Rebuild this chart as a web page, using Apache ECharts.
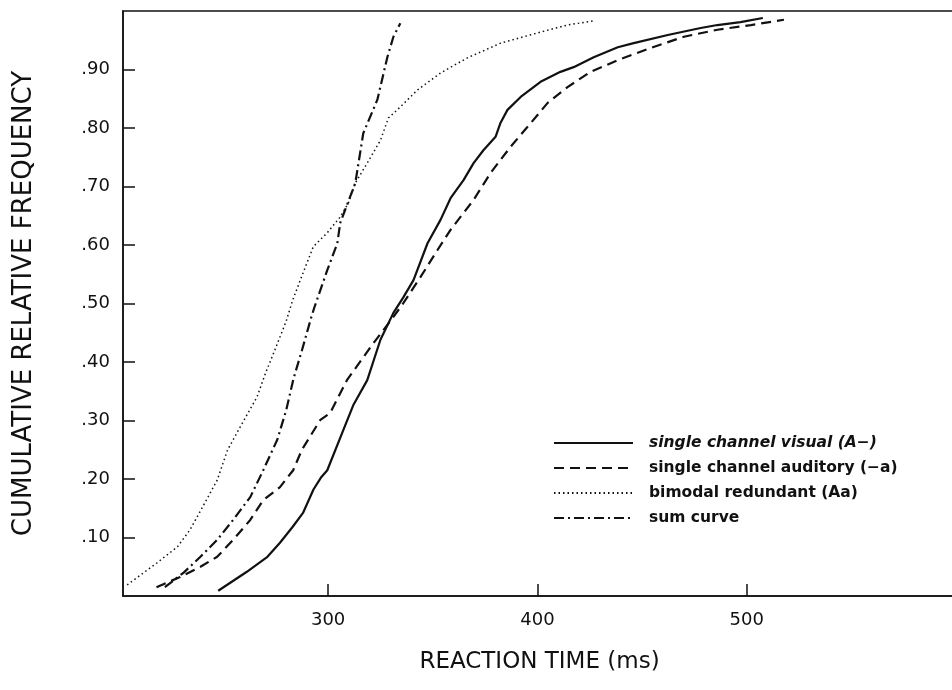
<!DOCTYPE html>
<html lang="en">
<head>
    <meta charset="UTF-8">
    <title>Cumulative RT distributions</title>
    <script src="https://cdn.jsdelivr.net/npm/echarts@6.0.0/dist/echarts.min.js"></script>
    <style>
        html, body { margin: 0; padding: 0; background: #fff; }
        #chart { width: 952px; height: 690px; }
    </style>
</head>
<body>
    <div id="chart"></div>
    <script>
        // [reaction time (ms), cumulative relative frequency]
        var visual = [
            [247.5, 0.009], [261, 0.041], [271, 0.067], [277, 0.091], [283, 0.118],
            [288, 0.142], [293, 0.182], [296.5, 0.202], [299.6, 0.215], [307.3, 0.284],
            [312, 0.326], [318.7, 0.369], [325, 0.438], [331.2, 0.484], [336, 0.511],
            [340.8, 0.540], [347.5, 0.603], [353.7, 0.643], [358.5, 0.68], [364.7, 0.711],
            [369.5, 0.740], [374.2, 0.762], [380, 0.785], [382.4, 0.809], [385.7, 0.831],
            [392, 0.853], [401.5, 0.879], [411, 0.896], [417.3, 0.904], [426.9, 0.921],
            [438.4, 0.938], [446, 0.945], [462.3, 0.959], [478, 0.971], [486, 0.976],
            [497, 0.981], [507.7, 0.988]
        ];
        var auditory = [
            [218, 0.015], [229, 0.032], [239, 0.050], [247, 0.067], [254.6, 0.096],
            [262.8, 0.130], [269, 0.164], [277, 0.186], [283.3, 0.215], [287.5, 0.25],
            [293, 0.282], [296.3, 0.301], [301, 0.313], [309, 0.369], [321.6, 0.432],
            [331.2, 0.477], [336, 0.501], [344.1, 0.545], [352.2, 0.591], [358.5, 0.626],
            [369.5, 0.677], [377.6, 0.723], [387.2, 0.768], [395.3, 0.802], [404.9, 0.843],
            [414.4, 0.870], [425.4, 0.896], [438.4, 0.916], [454.2, 0.937], [470, 0.956],
            [486, 0.968], [502, 0.976], [517.8, 0.985]
        ];
        var bimodal = [
            [204, 0.019], [218, 0.056], [228, 0.084], [234, 0.113], [240, 0.152],
            [247, 0.198], [252, 0.25], [258, 0.289], [266, 0.34], [270, 0.38],
            [274.5, 0.42], [280, 0.47], [283, 0.505], [286.7, 0.540], [292.9, 0.597],
            [299.6, 0.621], [305.8, 0.648], [309.7, 0.672], [313, 0.706], [318.7, 0.740],
            [325, 0.779], [328.8, 0.817], [334.5, 0.836], [342.7, 0.865], [353.7, 0.894],
            [366.6, 0.920], [382.4, 0.945], [401.5, 0.964], [414.4, 0.976], [426.4, 0.983]
        ];
        var sumCurve = [
            [222, 0.015], [231, 0.04], [239, 0.067], [247, 0.096], [254.6, 0.130],
            [262.8, 0.169], [269, 0.215], [275.7, 0.267], [280, 0.318], [283.5, 0.372],
            [287.5, 0.42], [292, 0.477], [293.5, 0.494], [299.6, 0.557], [304.4, 0.603],
            [305.8, 0.638], [309.2, 0.67], [313, 0.706], [316.8, 0.791], [323.5, 0.848],
            [328.3, 0.921], [331.2, 0.956], [334.5, 0.979]
        ];

        var seriesNames = [
            'single channel visual (A\u2212)',
            'single channel auditory (\u2212a)',
            'bimodal redundant (Aa)',
            'sum curve'
        ];

        var ink = '#111';
        var font = 'DejaVu Sans';

        var myChart = echarts.init(document.getElementById('chart'));

        function curve(name, data, width, dash) {
            return {
                name: name,
                type: 'line',
                data: data,
                symbol: 'none',
                lineStyle: { color: ink, width: width, type: dash },
                itemStyle: { color: ink }
            };
        }

        var option = {
            animation: false,
            backgroundColor: '#fff',
            grid: {
                left: 123, top: 11, right: -4, bottom: 94,
                containLabel: false,
                outerBoundsMode: 'none',
                show: true, borderColor: ink, borderWidth: 1.5
            },
            legend: {
                orient: 'vertical',
                left: 553,
                top: 435,
                padding: 0,
                itemWidth: 79,
                itemHeight: 14,
                itemGap: 9,
                itemStyle: { opacity: 0 },
                data: seriesNames,
                formatter: function (name) {
                    return name === seriesNames[0] ? '{i|' + name + '}' : name;
                },
                textStyle: {
                    fontFamily: font,
                    fontSize: 15.5,
                    fontWeight: 'bold',
                    color: ink,
                    padding: [0, 0, 0, 11],
                    rich: {
                        i: {
                            fontFamily: font,
                            fontSize: 15.5,
                            fontWeight: 'bold',
                            fontStyle: 'italic',
                            color: ink
                        }
                    }
                }
            },
            xAxis: {
                type: 'value',
                min: 202,
                max: 600,
                splitNumber: 4,
                name: 'REACTION TIME (ms)',
                nameLocation: 'middle',
                nameGap: 55,
                nameTextStyle: { fontFamily: font, fontSize: 23, color: ink },
                axisLine: { lineStyle: { color: ink, width: 1.5 } },
                axisTick: { inside: true, length: 12, lineStyle: { color: ink, width: 1.5 } },
                axisLabel: {
                    margin: 15,
                    showMinLabel: false,
                    showMaxLabel: false,
                    fontFamily: font,
                    fontSize: 18,
                    color: ink
                },
                splitLine: { show: false }
            },
            yAxis: {
                type: 'value',
                min: 0,
                max: 1,
                interval: 0.1,
                name: 'CUMULATIVE RELATIVE FREQUENCY',
                nameLocation: 'middle',
                nameGap: 86,
                nameTextStyle: { fontFamily: font, fontSize: 26, color: ink },
                axisLine: { lineStyle: { color: ink, width: 1.5 } },
                axisTick: { inside: true, length: 12, lineStyle: { color: ink, width: 1.5 } },
                axisLabel: {
                    margin: 13,
                    showMinLabel: false,
                    showMaxLabel: false,
                    fontFamily: font,
                    fontSize: 18,
                    color: ink,
                    formatter: function (v) {
                        return v.toFixed(2).replace(/^0/, '');
                    }
                },
                splitLine: { show: false }
            },
            series: [
                curve(seriesNames[0], visual, 2.2, 'solid'),
                curve(seriesNames[1], auditory, 2.2, [10, 6]),
                curve(seriesNames[2], bimodal, 1.5, [1.5, 3]),
                curve(seriesNames[3], sumCurve, 2.2, [10, 4, 2, 4])
            ]
        };

        myChart.setOption(option);
    </script>
</body>
</html>
